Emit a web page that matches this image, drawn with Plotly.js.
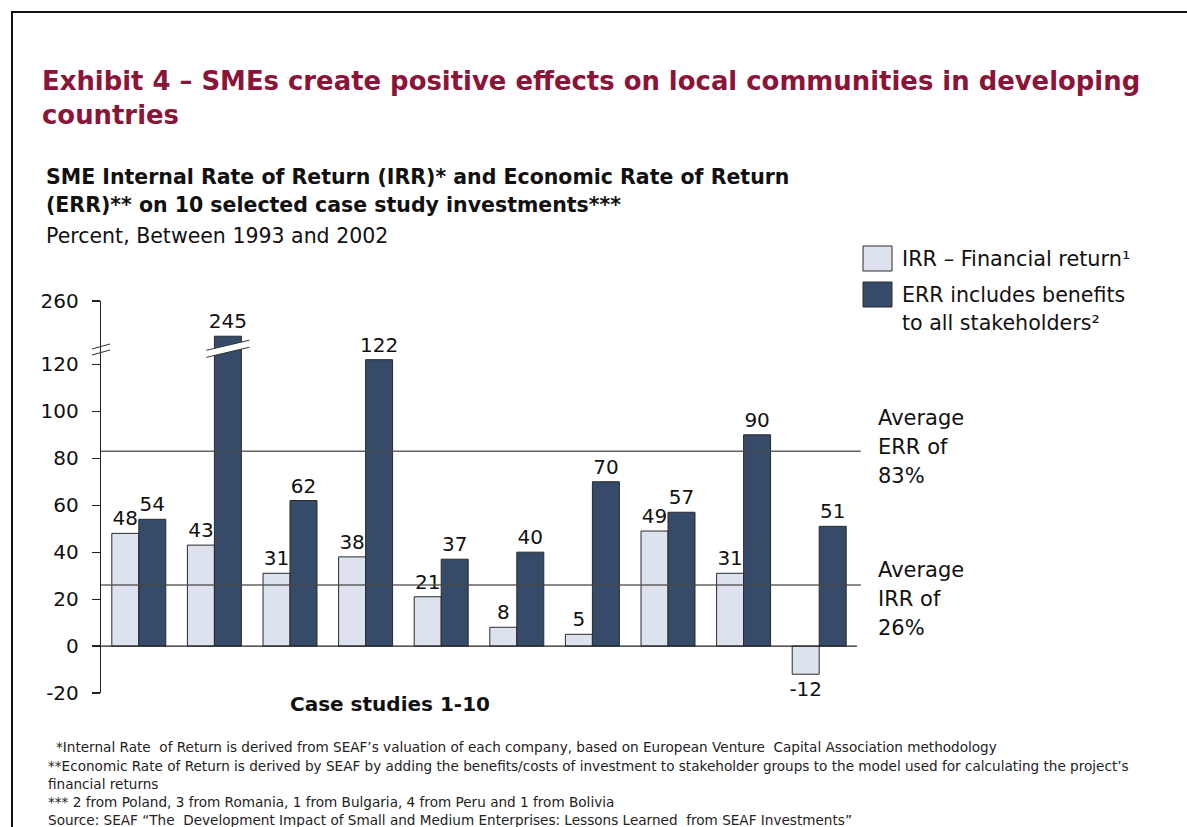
<!DOCTYPE html>
<html>
<head>
<meta charset="utf-8">
<script src="https://cdn.plot.ly/plotly-3.0.1.min.js"></script>
<style>
html,body{margin:0;padding:0;background:#fff;}
#chart{width:1187px;height:827px;position:absolute;left:0;top:0;}
#frame{position:absolute;left:11px;top:11px;width:1300px;height:900px;border-left:2px solid #111;border-top:2px solid #111;pointer-events:none;}
</style>
</head>
<body>
<div id="chart"></div>
<div id="frame"></div>
<script>
// ---- data ----
const cases = [1,2,3,4,5,6,7,8,9,10];
const irr = [48,43,31,38,21,8,5,49,31,-12];
const err = [54,245,62,122,37,40,70,57,90,51];
const avgIRR = 26;
const avgERR = 83;
const yTickValues = [-20,0,20,40,60,80,100,120,260];
const seriesNames = ['IRR \u2013 Financial return\u00b9', 'ERR includes benefits', 'to all stakeholders\u00b2'];

// broken axis: values above the break are shifted down
const BREAK_AT = 130, BREAK_SHIFT = 113;
const disp = v => v <= BREAK_AT ? v : v - BREAK_SHIFT;

// pixel helpers for decorations (plot area 101..857 x, 301..693 y)
const L = 101, R = 857, T = 301, B = 693;
const px = x => (x - L) / (R - L);
const py = y => (B - y) / (B - T);

const FONT = 'DejaVu Sans, Verdana, sans-serif';
const irrColor = '#dde3ee', errColor = '#364a6a', edge = '#2a2a2a';

const traces = [
  {type:'bar', x:cases.map(c=>c-1), y:irr.map(disp), text:irr.map(String),
   textposition:'outside', cliponaxis:false, constraintext:'none',
   textfont:{family:FONT,size:20,color:'#111'},
   marker:{color:irrColor, line:{color:edge,width:1}}, hoverinfo:'skip', name:'IRR'},
  {type:'bar', x:cases.map(c=>c-1), y:err.map(disp), text:err.map(String),
   textposition:'outside', cliponaxis:false, constraintext:'none',
   textfont:{family:FONT,size:20,color:'#111'},
   marker:{color:errColor, line:{color:edge,width:1}}, hoverinfo:'skip', name:'ERR'}
];

const shapes = [];
const annotations = [];

// average lines
[avgERR, avgIRR].forEach(v => {
  shapes.push({type:'line', xref:'paper', yref:'y', x0:0, x1:1.005, y0:v, y1:v,
    line:{color:'rgba(70,70,70,0.85)', width:1.5}, layer:'above'});
});
// zero line
shapes.push({type:'line', xref:'paper', yref:'y', x0:0, x1:1, y0:0, y1:0,
  line:{color:'#222', width:1.2}, layer:'above'});

// axis break marks on the y axis
[0,6].forEach(d => {
  shapes.push({type:'line', xref:'paper', yref:'paper', x0:px(92), x1:px(110), y0:py(349+d), y1:py(344+d),
    line:{color:'#333', width:1}});
});
// break on the tall bar
const bigIdx = err.findIndex(v => v > BREAK_AT);
if (bigIdx >= 0) {
  const cx = bigIdx + 0.1786;  // ERR bar center in category units
  const hw = 0.285;
  const yA = 126.0, yB = 123.0, slope = 4.3;
  shapes.push({type:'path', xref:'x', yref:'y',
    path:`M ${cx-hw} ${yA} L ${cx+hw} ${yA+slope} L ${cx+hw} ${yB+slope} L ${cx-hw} ${yB} Z`,
    fillcolor:'#ffffff', line:{width:0}, layer:'above'});
  shapes.push({type:'line', xref:'x', yref:'y', x0:cx-hw, x1:cx+hw, y0:yA, y1:yA+slope, line:{color:'#333',width:1}, layer:'above'});
  shapes.push({type:'line', xref:'x', yref:'y', x0:cx-hw, x1:cx+hw, y0:yB, y1:yB+slope, line:{color:'#333',width:1}, layer:'above'});
}

// legend
shapes.push({type:'rect', xref:'paper', yref:'paper', x0:px(863), x1:px(892), y0:py(271), y1:py(246),
  fillcolor:irrColor, line:{color:edge,width:1}});
shapes.push({type:'rect', xref:'paper', yref:'paper', x0:px(863), x1:px(892), y0:py(307), y1:py(282),
  fillcolor:errColor, line:{color:edge,width:1}});

function txt(text, x, y, size, opts={}) {
  annotations.push(Object.assign({text, xref:'paper', yref:'paper', x:px(x), y:py(y),
    xanchor:'left', yanchor:'middle', showarrow:false,
    font:{family:FONT, size, color:'#111'}}, opts));
}
txt(seriesNames[0], 900, 259, 20.8);
txt(seriesNames[1], 900, 295, 20.6);
txt(seriesNames[2], 900, 323, 20.6);

// average labels
txt('Average', 876, 418, 21);
txt('ERR of', 876, 447, 21);
txt(avgERR + '%', 876, 476, 21);
txt('Average', 876, 570, 21);
txt('IRR of', 876, 599, 21);
txt(avgIRR + '%', 876, 628, 21);

// titles
const red = '#8b1538';
txt('<b>Exhibit 4 \u2013 SMEs create positive effects on local communities in developing</b>', 40, 81, 25.9, {font:{family:FONT,size:25.9,color:red}});
txt('<b>countries</b>', 40, 115, 25.9, {font:{family:FONT,size:25.9,color:red}});
txt('<b>SME Internal Rate of Return (IRR)* and Economic Rate of Return</b>', 44, 177, 20.5);
txt('<b>(ERR)** on 10 selected case study investments***</b>', 44, 205, 20.5);
txt('Percent, Between 1993 and 2002', 44, 236, 20.5);

// x axis caption
annotations.push({text:'<b>Case studies 1-10</b>', xref:'paper', yref:'paper', x:px(390), y:py(704),
  xanchor:'center', yanchor:'middle', showarrow:false, font:{family:FONT,size:20,color:'#111'}});

// footnotes
const fs = 13.6, fc = '#222';
txt('*Internal Rate  of Return is derived from SEAF\u2019s valuation of each company, based on European Venture  Capital Association methodology', 54, 747, fs, {font:{family:FONT,size:fs,color:fc}});
txt('**Economic Rate of Return is derived by SEAF by adding the benefits/costs of investment to stakeholder groups to the model used for calculating the project\u2019s', 46, 766, fs, {font:{family:FONT,size:fs,color:fc}});
txt('financial returns', 46, 784, fs, {font:{family:FONT,size:fs,color:fc}});
txt('*** 2 from Poland, 3 from Romania, 1 from Bulgaria, 4 from Peru and 1 from Bolivia', 46, 802, fs, {font:{family:FONT,size:fs,color:fc}});
txt('Source: SEAF \u201cThe  Development Impact of Small and Medium Enterprises: Lessons Learned  from SEAF Investments\u201d', 46, 820, fs, {font:{family:FONT,size:fs,color:fc}});

const layout = {
  width:1187, height:827,
  margin:{l:L, r:1187-R, t:T, b:827-B, pad:0},
  paper_bgcolor:'rgba(0,0,0,0)', plot_bgcolor:'rgba(0,0,0,0)',
  showlegend:false,
  barmode:'group', bargap:0.286, bargroupgap:0,
  xaxis:{range:[-0.5,9.5], showticklabels:false, showgrid:false, zeroline:false, showline:false, ticks:'', fixedrange:true},
  yaxis:{range:[-20, disp(260)], tickvals:yTickValues.map(disp), ticktext:yTickValues.map(String),
    showgrid:false, zeroline:false, showline:true, linecolor:'#222', linewidth:1.2,
    ticks:'outside', ticklen:8, tickcolor:'#222', tickwidth:1.2,
    tickfont:{family:FONT,size:20,color:'#111'}, ticklabelstandoff:9, fixedrange:true},
  shapes, annotations,
  font:{family:FONT}
};

Plotly.newPlot('chart', traces, layout, {displayModeBar:false, staticPlot:true});
</script>
</body>
</html>
